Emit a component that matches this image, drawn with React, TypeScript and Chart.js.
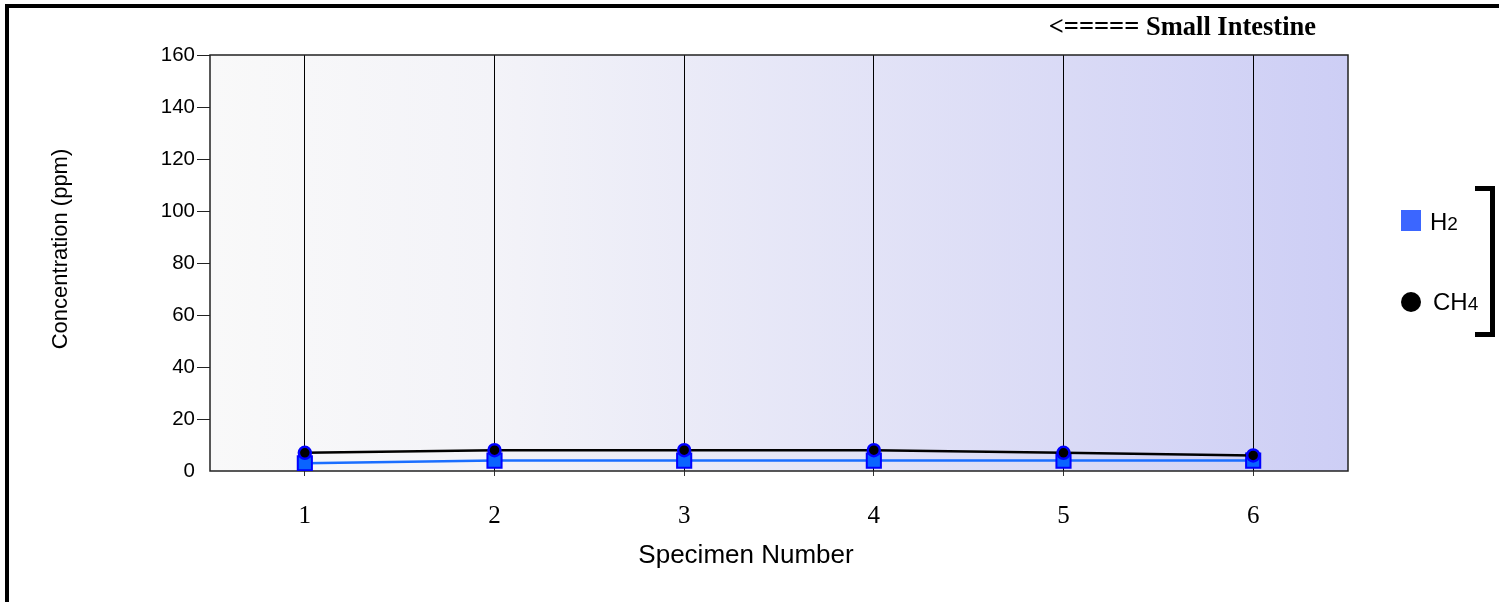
import { useEffect, useRef } from "react";
import { Chart, registerables } from "chart.js";

Chart.register(...registerables);

const specimens = ["1", "2", "3", "4", "5", "6"];
const h2Values = [3, 4, 4, 4, 4, 4];
const ch4Values = [7, 8, 8, 8, 7, 6];
const yMin = 0;
const yMax = 160;
const yStep = 20;
const chartTitle = "<===== Small Intestine";
const yTitle = "Concentration (ppm)";
const xTitle = "Specimen Number";
const legendBases = ["H", "CH"];
const legendSubs = ["2", "4"];

const SANS = "'Liberation Sans', Arial, Helvetica, sans-serif";
const SERIF = "'Liberation Serif', 'Times New Roman', serif";

const decor = {
  id: "decor",
  beforeDraw(chart: any) {
    const { ctx, chartArea: a } = chart;
    ctx.save();
    const g = ctx.createLinearGradient(a.left, 0, a.right, 0);
    g.addColorStop(0, "#f9f9f9");
    g.addColorStop(0.25, "#f3f3f8");
    g.addColorStop(1, "#cdcef5");
    ctx.fillStyle = g;
    ctx.fillRect(a.left, a.top, a.right - a.left, a.bottom - a.top);
    ctx.restore();
  },
  beforeDatasetsDraw(chart: any) {
    const { ctx, chartArea: a } = chart;
    ctx.save();
    ctx.strokeStyle = "#222";
    ctx.lineWidth = 1.5;
    ctx.strokeRect(a.left, a.top, a.right - a.left, a.bottom - a.top);
    ctx.restore();
  },
  afterDraw(chart: any) {
    const { ctx } = chart;
    ctx.save();
    // outer frame (top and left)
    ctx.strokeStyle = "#000";
    ctx.lineWidth = 4;
    ctx.beginPath();
    ctx.moveTo(7, 602);
    ctx.lineTo(7, 6);
    ctx.lineTo(1499, 6);
    ctx.stroke();

    // title
    ctx.fillStyle = "#000";
    ctx.font = `bold 26.5px ${SERIF}`;
    ctx.textAlign = "right";
    ctx.textBaseline = "alphabetic";
    ctx.fillText(chartTitle, 1316, 35);

    // axis titles
    ctx.font = `26px ${SANS}`;
    ctx.textAlign = "center";
    ctx.fillText(xTitle, 746, 563);

    ctx.save();
    ctx.translate(67, 249);
    ctx.rotate(-Math.PI / 2);
    ctx.font = `22px ${SANS}`;
    ctx.textAlign = "center";
    ctx.fillText(yTitle, 0, 0);
    ctx.restore();

    // legend
    ctx.fillStyle = "#3b66ff";
    ctx.fillRect(1401, 210, 20, 21);
    ctx.fillStyle = "#000";
    ctx.beginPath();
    ctx.arc(1411, 302, 10, 0, Math.PI * 2);
    ctx.fill();

    const baselines = [230, 310];
    const starts = [1430, 1433];
    ctx.textAlign = "left";
    for (let i = 0; i < legendBases.length; i++) {
      ctx.font = `24px ${SANS}`;
      ctx.fillText(legendBases[i], starts[i], baselines[i]);
      const w = ctx.measureText(legendBases[i]).width;
      ctx.font = `19px ${SANS}`;
      ctx.fillText(legendSubs[i], starts[i] + w, baselines[i]);
    }

    // bracket
    ctx.strokeStyle = "#000";
    ctx.lineWidth = 5;
    ctx.beginPath();
    ctx.moveTo(1475, 188.5);
    ctx.lineTo(1492.5, 188.5);
    ctx.lineTo(1492.5, 334.5);
    ctx.lineTo(1475, 334.5);
    ctx.stroke();
    ctx.restore();
  },
};

export default function App() {
  const ref = useRef<HTMLCanvasElement | null>(null);

  useEffect(() => {
    if (!ref.current) return;
    const chart = new Chart(ref.current, {
      type: "line",
      data: {
        labels: specimens,
        datasets: [
          {
            label: "CH4",
            data: ch4Values,
            borderColor: "#000",
            borderWidth: 2.5,
            pointStyle: "circle",
            pointRadius: 6,
            pointBackgroundColor: "#000",
            pointBorderColor: "#0000ff",
            pointBorderWidth: 2.5,
            tension: 0,
            order: 0,
          },
          {
            label: "H2",
            data: h2Values,
            borderColor: "#1a6eff",
            borderWidth: 2.5,
            pointStyle: "rect",
            pointRadius: 10,
            pointBackgroundColor: "#0a64ff",
            pointBorderColor: "#0000ff",
            pointBorderWidth: 2,
            tension: 0,
            order: 1,
          },
        ],
      },
      plugins: [decor],
      options: {
        animation: false,
        responsive: true,
        maintainAspectRatio: false,
        layout: { padding: { left: 0, right: 151, top: 55, bottom: 20 } },
        plugins: {
          legend: { display: false },
          title: { display: false },
          tooltip: { enabled: false },
        },
        scales: {
          x: {
            type: "category",
            offset: true,
            border: { display: false },
            grid: {
              offset: false,
              color: "#000",
              lineWidth: 1,
              drawOnChartArea: true,
              drawTicks: true,
              tickLength: 5,
              tickColor: "#333",
            },
            ticks: {
              color: "#000",
              font: { family: SERIF, size: 25 },
              padding: 25,
              maxRotation: 0,
            },
            afterFit(scale: any) {
              scale.height = 111;
            },
          },
          y: {
            min: yMin,
            max: yMax,
            border: { display: false },
            grid: {
              drawOnChartArea: false,
              drawTicks: true,
              tickLength: 13,
              tickColor: (c: any) => (c.tick && c.tick.value === 0 ? "rgba(0,0,0,0)" : "#222"),
            },
            ticks: {
              stepSize: yStep,
              color: "#000",
              font: { family: SANS, size: 20.5 },
              padding: 2,
            },
            afterFit(scale: any) {
              scale.width = 210;
            },
          },
        },
      },
    });
    return () => chart.destroy();
  }, []);

  return (
    <div style={{ position: "absolute", left: 0, top: 0, width: 1499, height: 602, background: "#fff" }}>
      <canvas ref={ref} />
    </div>
  );
}
